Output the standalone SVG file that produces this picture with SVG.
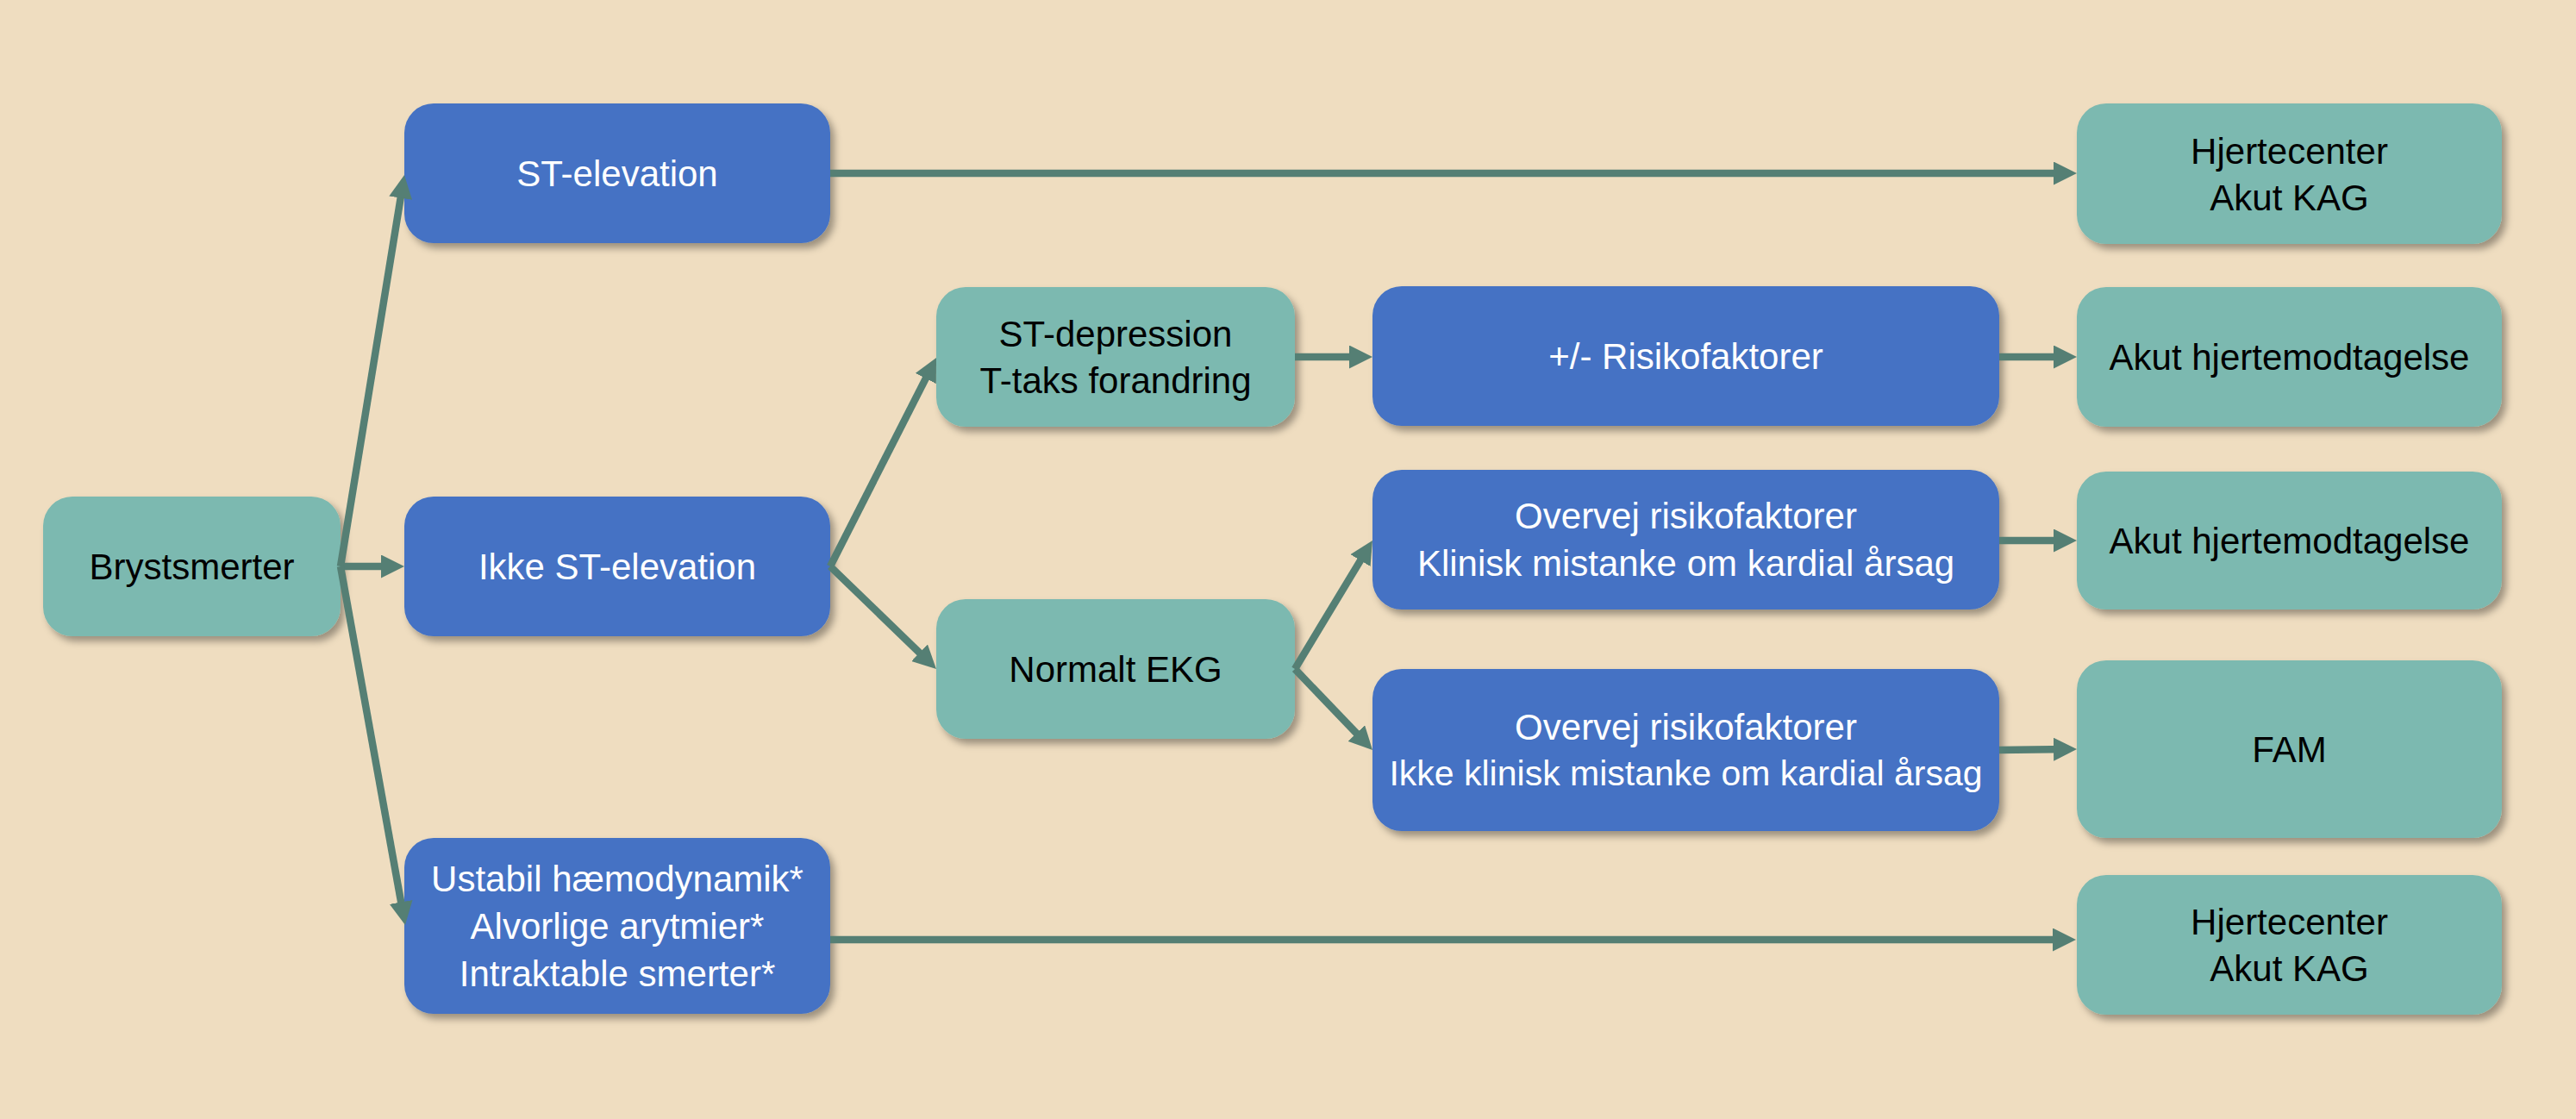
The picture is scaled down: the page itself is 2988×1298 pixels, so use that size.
<svg xmlns="http://www.w3.org/2000/svg" width="2988" height="1298" viewBox="0 0 2988 1298">
<style>
.box{stroke:none;filter:url(#sh)}
.blue{fill:#4472C4}
.teal{fill:#7BB9B0}
text{font-family:"Liberation Sans",Arial,sans-serif;font-size:42px;text-anchor:middle}
.w{fill:#FFFFFF}
.k{fill:#000000}
.c{fill:none;stroke:#557F74;stroke-width:8.5;marker-end:url(#ah)}
</style>
<defs>
<filter id="sh" x="-10%" y="-10%" width="125%" height="135%">
<feDropShadow dx="5" dy="6" stdDeviation="4" flood-color="#000" flood-opacity="0.35"/>
</filter>
<marker id="ah" markerUnits="userSpaceOnUse" markerWidth="27" markerHeight="27" refX="17" refY="13.5" orient="auto" viewBox="0 0 27 27">
<path d="M0,0 L27,13.5 L0,27 Z" fill="#557F74"/>
</marker>
</defs>
<rect x="0" y="0" width="2988" height="1298" fill="#EFDDC0"/>

<g id="n1"><rect class="box teal" x="50" y="576" width="345" height="162" rx="34"/><text class="k" x="222.5" y="672">Brystsmerter</text></g>
<g id="n2"><rect class="box blue" x="469" y="120" width="494" height="162" rx="34"/><text class="w" x="716" y="216">ST-elevation</text></g>
<g id="n3"><rect class="box blue" x="469" y="576" width="494" height="162" rx="34"/><text class="w" x="716" y="672">Ikke ST-elevation</text></g>
<g id="n4"><rect class="box blue" x="469" y="972" width="494" height="204" rx="34"/><text class="w" x="716" y="1034">Ustabil hæmodynamik*</text><text class="w" x="716" y="1089">Alvorlige arytmier*</text><text class="w" x="716" y="1144">Intraktable smerter*</text></g>
<g id="n5"><rect class="box teal" x="1086" y="333" width="416" height="162" rx="34"/><text class="k" x="1294" y="402">ST-depression</text><text class="k" x="1294" y="456">T-taks forandring</text></g>
<g id="n6"><rect class="box teal" x="1086" y="695" width="416" height="162" rx="34"/><text class="k" x="1294" y="791">Normalt EKG</text></g>
<g id="n7"><rect class="box blue" x="1592" y="332" width="727" height="162" rx="34"/><text class="w" x="1955.5" y="428">+/- Risikofaktorer</text></g>
<g id="n8"><rect class="box blue" x="1592" y="545" width="727" height="162" rx="34"/><text class="w" x="1955.5" y="613">Overvej risikofaktorer</text><text class="w" x="1955.5" y="668">Klinisk mistanke om kardial årsag</text></g>
<g id="n9"><rect class="box blue" x="1592" y="776" width="727" height="188" rx="34"/><text class="w" x="1955.5" y="858">Overvej risikofaktorer</text><text class="w" x="1955.5" y="911" style="font-size:41px">Ikke klinisk mistanke om kardial årsag</text></g>
<g id="n10"><rect class="box teal" x="2409" y="120" width="493" height="163" rx="34"/><text class="k" x="2655.5" y="189.5">Hjertecenter</text><text class="k" x="2655.5" y="243.5">Akut KAG</text></g>
<g id="n11"><rect class="box teal" x="2409" y="333" width="493" height="162" rx="34"/><text class="k" x="2655.5" y="429">Akut hjertemodtagelse</text></g>
<g id="n12"><rect class="box teal" x="2409" y="547" width="493" height="160" rx="34"/><text class="k" x="2655.5" y="642">Akut hjertemodtagelse</text></g>
<g id="n13"><rect class="box teal" x="2409" y="766" width="493" height="206" rx="34"/><text class="k" x="2655.5" y="884">FAM</text></g>
<g id="n14"><rect class="box teal" x="2409" y="1015" width="493" height="162" rx="34"/><text class="k" x="2655.5" y="1084">Hjertecenter</text><text class="k" x="2655.5" y="1138">Akut KAG</text></g>

<g id="connectors">
<path class="c" d="M395,657 L467.4,212.9"/>
<path class="c" d="M395,657 L459,657"/>
<path class="c" d="M395,657 L468.2,1063.2"/>
<path class="c" d="M963,201 L2399,201"/>
<path class="c" d="M963,657 L1081.5,423.9"/>
<path class="c" d="M963,657 L1078.8,769"/>
<path class="c" d="M1502,414 L1582,414"/>
<path class="c" d="M1502,776 L1586.8,635.6"/>
<path class="c" d="M1502,776 L1585.1,862.8"/>
<path class="c" d="M2319,414 L2399,414"/>
<path class="c" d="M2319,627 L2399,627"/>
<path class="c" d="M2319,870 L2399,869"/>
<path class="c" d="M963,1090 L2398,1090"/>
</g>
</svg>
